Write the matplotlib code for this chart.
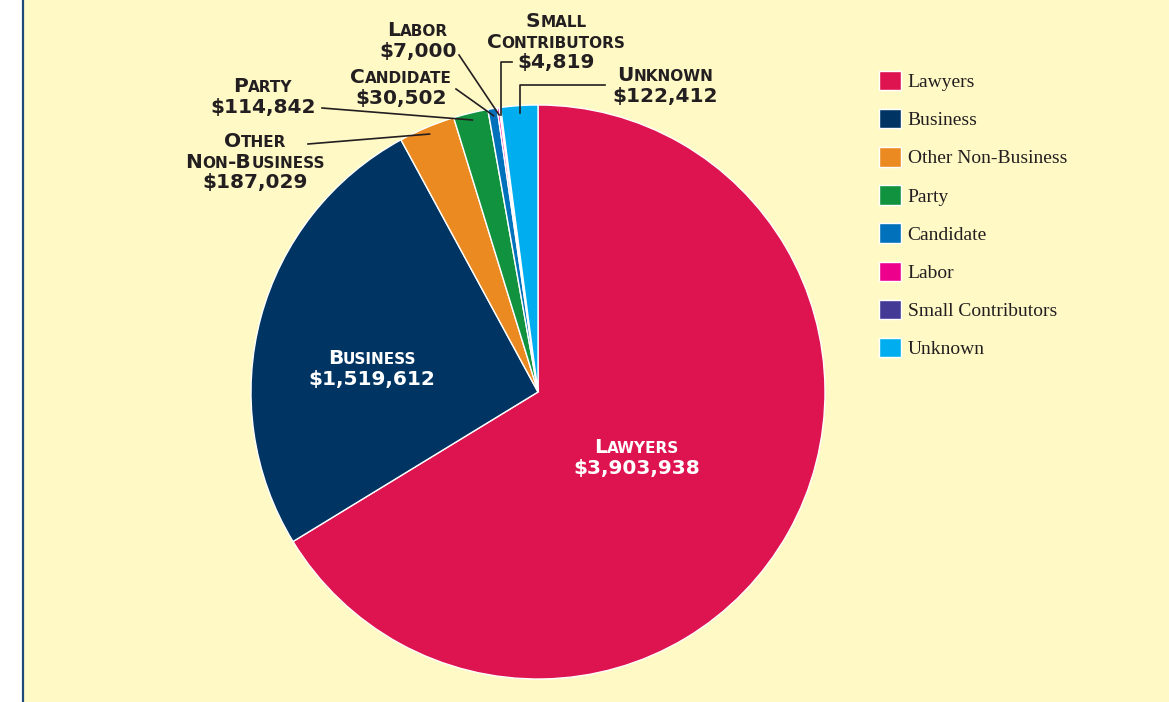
import numpy as np
import matplotlib
matplotlib.use("Agg")
import matplotlib.pyplot as plt
from matplotlib.patches import Rectangle
from matplotlib.offsetbox import TextArea, HPacker, VPacker, AnnotationBbox

# ---------------- data ----------------
categories = ["Lawyers", "Business", "Other Non-Business", "Party", "Candidate",
              "Labor", "Small Contributors", "Unknown"]
values = [3903938, 1519612, 187029, 114842, 30502, 7000, 4819, 122412]
colors = ["#DD1450", "#003563", "#EB8A20", "#11923F", "#0071BA",
          "#EC008C", "#433A95", "#00AEEF"]
label_texts = ["Lawyers\n$3,903,938", "Business\n$1,519,612",
               "Other\nNon-Business\n$187,029", "Party\n$114,842",
               "Candidate\n$30,502", "Labor\n$7,000",
               "Small\nContributors\n$4,819", "Unknown\n$122,412"]

W, H = 1169, 702
BG = "#FFF9C6"
TXT = "#231F20"

fig = plt.figure(figsize=(W / 100, H / 100), dpi=100, facecolor="white")
ax = fig.add_axes([0, 0, 1, 1])

def Y(y):  # image-y (top-down) -> data y
    return H - y

# background panel + left rule
ax.add_patch(Rectangle((23, 0), W - 23, H, facecolor=BG, edgecolor="none", zorder=0))
ax.plot([22.5, 22.5], [0, H], color="#1E4A7A", lw=1.6, zorder=1, solid_capstyle="butt")

cx, cy, R = 538, Y(392), 287
wedges, _ = ax.pie(values, colors=colors, startangle=90, counterclock=False,
                   center=(cx, cy), radius=R,
                   wedgeprops=dict(edgecolor="white", linewidth=1.0))
for w in wedges:
    w.set_zorder(2)
ax.set_xlim(0, W)
ax.set_ylim(0, H)
ax.set_aspect("equal")
ax.axis("off")

BIG, SMALL = 14.5, 11

def smallcaps_box(text, color):
    lines = []
    for line in text.split("\n"):
        runs = []
        cur, cur_small = "", None
        for ch in line:
            is_small = ch.islower()
            if cur_small is None or is_small == cur_small:
                cur += ch
                cur_small = is_small
            else:
                runs.append((cur, cur_small))
                cur, cur_small = ch, is_small
        if cur:
            runs.append((cur, cur_small))
        children = [TextArea(t.upper(), textprops=dict(
            fontsize=SMALL if s else BIG, color=color, fontweight="bold",
            family="DejaVu Sans")) for t, s in runs]
        lines.append(HPacker(children=children, align="baseline", pad=0, sep=0))
    return VPacker(children=lines, align="center", pad=0, sep=1)

def place(text, x, y, color=TXT):
    ab = AnnotationBbox(smallcaps_box(text, color), (x, Y(y)), xycoords="data",
                        frameon=False, box_alignment=(0.5, 0.5), pad=0, zorder=5)
    ax.add_artist(ab)

def wedge_point(i, frac=0.975):
    w = wedges[i]
    mid = np.deg2rad((w.theta1 + w.theta2) / 2)
    return cx + frac * R * np.cos(mid), cy + frac * R * np.sin(mid)

# label block centres (image px)
label_pos = {0: (637, 458), 1: (372, 369), 2: (255, 162), 3: (263, 97),
             4: (401, 88), 5: (418, 41), 6: (556, 42), 7: (665, 86)}
for i, (x, y) in label_pos.items():
    place(label_texts[i], x, y, color="white" if i < 2 else TXT)

# leader lines
lw = 1.2
straight_starts = {2: (308, 144), 3: (322, 108), 4: (456, 89), 5: (459, 55)}
for i, (sx, sy) in straight_starts.items():
    ex, ey = wedge_point(i)
    ax.plot([sx, ex], [Y(sy), ey], color=TXT, lw=lw, zorder=4)
elbow_starts = {6: (512, 62), 7: (605, 85)}
for i, (sx, sy) in elbow_starts.items():
    ex, ey = wedge_point(i)
    ax.plot([sx, ex, ex], [Y(sy), Y(sy), ey], color=TXT, lw=lw, zorder=4)

# legend
leg = ax.legend(wedges, categories, loc="upper left",
                bbox_to_anchor=(879 / W, 1 - 71 / H), bbox_transform=fig.transFigure,
                frameon=False, prop=dict(family="Liberation Serif", size=14),
                handlelength=1.15, handleheight=1.15, handletextpad=0.32,
                labelspacing=0.92, borderpad=0, borderaxespad=0)
for t in leg.get_texts():
    t.set_color(TXT)

fig.savefig("out.png", dpi=100, facecolor="white")
